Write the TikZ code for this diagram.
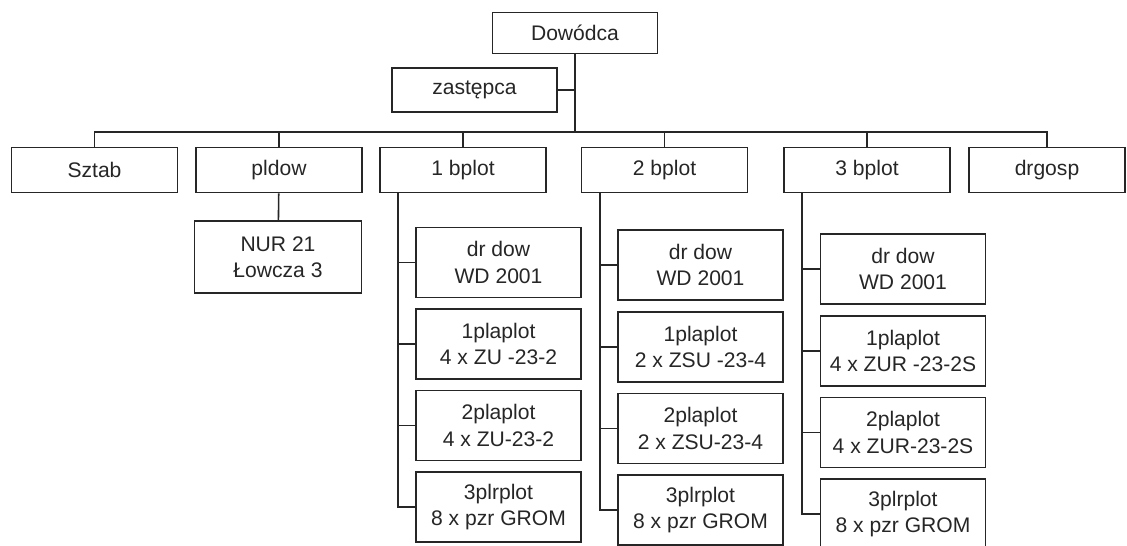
\documentclass[tikz,border=0pt]{standalone}
\usepackage{fontspec}
\setmainfont{Liberation Sans}
\usepackage{tikz}
\usetikzlibrary{calc}

\begin{document}
\begin{tikzpicture}[line width=0.9pt, draw=black!85,
	unit/.style = {draw=black!85, rectangle,
		minimum width = 3.32cm,
		minimum height = 0.90cm,
		inner sep = 0pt,
		text=black!85,
		font=\fontsize{12}{15}\selectfont},
	sub/.style = {unit,
		align=center,
		minimum width = 3.30cm,
		minimum height = 1.40cm}]
	
	\useasboundingbox (0,0) rectangle (22.54,-10.92);
	
	% Commander
	\node[unit, minimum width=3.30cm, minimum height=0.82cm] (dow) at (11.50,-0.66) {Dowódca};
	
	% Deputy
	\node[unit, minimum width=3.30cm, minimum height=0.88cm] (zast) at (9.49,-1.80) {zastępca};
	
	% Main row
	\node[unit] (sztab) at (1.89,-3.40) {Sztab};
	\node[unit] (pldow) at (5.58,-3.40) {pldow};
	\node[unit] (bp1) at (9.26,-3.40) {1 bplot};
	\node[unit] (bp2) at (13.29,-3.40) {2 bplot};
	\node[unit] (bp3) at (17.34,-3.40) {3 bplot};
	\node[unit, minimum width=3.12cm] (gosp) at (20.94,-3.40) {drgosp};
	
	% Bus
	\coordinate (bus) at (11.50,-2.64);
	\draw (dow) -- (bus);
	\draw (zast.east) -- (zast.east -| bus);
	\draw (sztab.north) |- (bus);
	\draw (pldow.north) |- (bus);
	\draw (bp1.north) |- (bus);
	\draw (bp2.north) |- (bus);
	\draw (bp3.north) |- (bus);
	\draw (gosp.north) |- (bus);
	
	% pldow
	\node[sub, minimum width=3.34cm, minimum height=1.44cm] (nur) at (5.56,-5.14) {NUR 21\\Łowcza 3};
	\draw (pldow) -- (nur);
	
	% 1 bplot
	\node[sub] (bp1a) at (9.97,-5.25) {dr dow\\WD 2001};
	\node[sub] (bp1b) at (9.97,-6.88) {1plaplot\\4 x ZU -23-2};
	\node[sub] (bp1c) at (9.97,-8.51) {2plaplot\\4 x ZU-23-2};
	\node[sub] (bp1d) at (9.97,-10.14) {3plrplot\\8 x pzr GROM};
	\draw ([xshift=0.38cm]bp1.south west) |- (bp1a.west);
	\draw ([xshift=0.38cm]bp1.south west) |- (bp1b.west);
	\draw ([xshift=0.38cm]bp1.south west) |- (bp1c.west);
	\draw ([xshift=0.38cm]bp1.south west) |- (bp1d.west);
	
	% 2 bplot
	\node[sub] (bp2a) at (14.01,-5.30) {dr dow\\WD 2001};
	\node[sub] (bp2b) at (14.01,-6.94) {1plaplot\\2 x ZSU -23-4};
	\node[sub] (bp2c) at (14.01,-8.57) {2plaplot\\2 x ZSU-23-4};
	\node[sub] (bp2d) at (14.01,-10.20) {3plrplot\\8 x pzr GROM};
	\draw ([xshift=0.38cm]bp2.south west) |- (bp2a.west);
	\draw ([xshift=0.38cm]bp2.south west) |- (bp2b.west);
	\draw ([xshift=0.38cm]bp2.south west) |- (bp2c.west);
	\draw ([xshift=0.38cm]bp2.south west) |- (bp2d.west);
	
	% 3 bplot
	\node[sub] (bp3a) at (18.06,-5.38) {dr dow\\WD 2001};
	\node[sub] (bp3b) at (18.06,-7.02) {1plaplot\\4 x ZUR -23-2S};
	\node[sub] (bp3c) at (18.06,-8.65) {2plaplot\\4 x ZUR-23-2S};
	\node[sub] (bp3d) at (18.06,-10.28) {3plrplot\\8 x pzr GROM};
	\draw ([xshift=0.38cm]bp3.south west) |- (bp3a.west);
	\draw ([xshift=0.38cm]bp3.south west) |- (bp3b.west);
	\draw ([xshift=0.38cm]bp3.south west) |- (bp3c.west);
	\draw ([xshift=0.38cm]bp3.south west) |- (bp3d.west);
	
\end{tikzpicture}
\end{document}
